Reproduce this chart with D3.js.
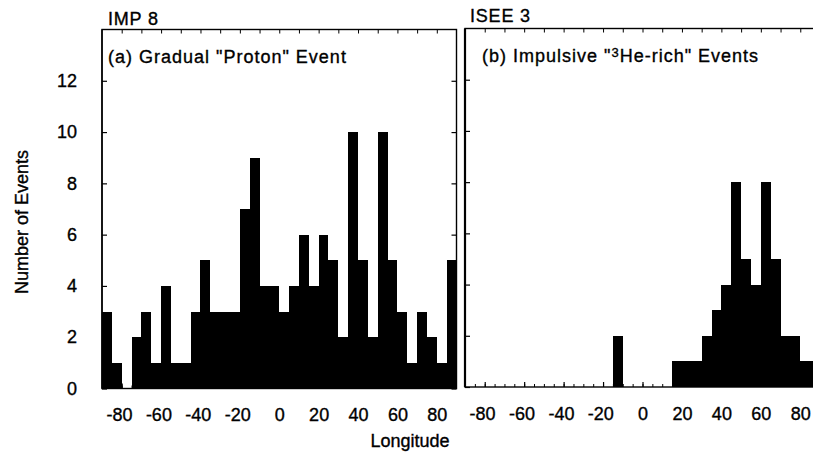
<!DOCTYPE html>
<html><head><meta charset="utf-8">
<script src="https://cdn.jsdelivr.net/npm/d3@7/dist/d3.min.js"></script>
<style>
body{margin:0;background:#fff}
svg{display:block}
text{font-family:"Liberation Sans",Arial,Helvetica,sans-serif;fill:#000;stroke:#000;stroke-width:0.35px}
</style>
</head><body>
<svg id="chart" width="813" height="452"></svg>
<script>
// ---- data ----
const binStarts = d3.range(-90, 90, 5);           // longitude bins, 5° wide
const impCounts  = [3,1,0,2,3,1,4,1,1,3,5,3,3,3,7,9,4,4,3,4,6,4,6,5,2,10,5,2,10,5,3,1,3,2,1,5];
const iseeCounts = [0,0,0,0,0,0,0,0,0,0,0,0,0,0,0,2,0,0,0,0,0,1,1,1,2,3,4,8,5,4,8,5,2,2,1,1];
const xTickValues = [-80,-60,-40,-20,0,20,40,60,80];
const yTickValues = [0,2,4,6,8,10,12];
const panelNames  = ["IMP 8", "ISEE 3"];

const svg = d3.select("#chart");
const FS = 18;
const fmt = d => String(d);   // plain hyphen minus, as in the original

const panels = [
  {name: panelNames[0], counts: impCounts,  left: 102, right: 456.5, top: 29.5, bottom: 388.5, borderW: 1.4,
   nameX: 108, nameY: 25, titleX: 108, titleY: 63, showY: true},
  {name: panelNames[1], counts: iseeCounts, left: 465, right: 820,  top: 28.5, bottom: 387,  borderW: 2.2,
   nameX: 470, nameY: 22, titleX: 482, titleY: 62, showY: false}
];

panels.forEach((p, i) => {
  const x = d3.scaleLinear().domain([-90, 90]).range([p.left, p.right]);
  const y = d3.scaleLinear().domain([0, 14]).range([p.bottom, p.top]);
  const g = svg.append("g");

  // bars
  g.append("g").selectAll("rect").data(binStarts).join("rect")
    .attr("x", d => x(d))
    .attr("width", d => x(d + 5) - x(d))
    .attr("y", (d, k) => y(p.counts[k]))
    .attr("height", (d, k) => y(0) - y(p.counts[k]))
    .attr("fill", "#000")
    .attr("shape-rendering", "crispEdges");

  // bottom axis (major, inward ticks, labels)
  const xb = g.append("g").attr("transform", `translate(0,${p.bottom})`)
    .call(d3.axisBottom(x).tickValues(xTickValues).tickSize(-5).tickPadding(20).tickFormat(fmt));
  xb.select(".domain").remove();
  xb.selectAll("line").attr("stroke", "#000").attr("stroke-width", 1.2);
  xb.selectAll("text").attr("font-size", FS).attr("font-family", null)
    .attr("dx", d => d < 0 ? "-0.15em" : 0);
  // bottom minor ticks
  const xbm = g.append("g").attr("transform", `translate(0,${p.bottom})`)
    .call(d3.axisBottom(x).tickValues(binStarts).tickSize(-3).tickFormat(""));
  xbm.select(".domain").remove();
  xbm.selectAll("line").attr("stroke", "#000").attr("stroke-width", 1);

  // top ticks
  const xt = g.append("g").attr("transform", `translate(0,${p.top})`)
    .call(d3.axisTop(x).tickValues(d3.range(-80, 90, 10)).tickSize(-4).tickFormat(""));
  xt.select(".domain").remove();
  xt.selectAll("line").attr("stroke", "#000").attr("stroke-width", 1);

  // left axis
  const yl = g.append("g").attr("transform", `translate(${p.left},0)`)
    .call(d3.axisLeft(y).tickValues(yTickValues).tickSize(-5).tickPadding(25)
      .tickFormat(p.showY ? fmt : ""));
  yl.select(".domain").remove();
  yl.selectAll("line").attr("stroke", "#000").attr("stroke-width", 1.2);
  yl.selectAll("text").attr("font-size", FS).attr("font-family", null);
  // right axis ticks
  const yr = g.append("g").attr("transform", `translate(${p.right},0)`)
    .call(d3.axisRight(y).tickValues(yTickValues).tickSize(-5).tickFormat(""));
  yr.select(".domain").remove();
  yr.selectAll("line").attr("stroke", "#000").attr("stroke-width", 1.2);

  // frame
  g.append("rect")
    .attr("x", p.left).attr("y", p.top)
    .attr("width", p.right - p.left).attr("height", p.bottom - p.top)
    .attr("fill", "none").attr("stroke", "#000").attr("stroke-width", 1.4);
  g.append("line")
    .attr("x1", p.left).attr("x2", p.left).attr("y1", p.top).attr("y2", p.bottom)
    .attr("stroke", "#000").attr("stroke-width", p.borderW);

  // spacecraft name
  g.append("text").attr("x", p.nameX).attr("y", p.nameY)
    .attr("font-size", FS).attr("letter-spacing", 0.8).text(p.name);
});

// panel titles
svg.append("text").attr("x", panels[0].titleX).attr("y", panels[0].titleY)
  .attr("font-size", FS).attr("letter-spacing", 1)
  .text('(a) Gradual "Proton" Event');

const tb = svg.append("text").attr("x", panels[1].titleX).attr("y", panels[1].titleY)
  .attr("font-size", FS).attr("letter-spacing", 1);
tb.append("tspan").text('(b) Impulsive "');
tb.append("tspan").attr("font-size", 13).attr("dy", -5).text("3");
tb.append("tspan").attr("dy", 5).text('He-rich" Events');

// axis titles
svg.append("text")
  .attr("transform", "translate(28,222) rotate(-90)")
  .attr("text-anchor", "middle").attr("font-size", FS)
  .text("Number of Events");

svg.append("text")
  .attr("x", 410).attr("y", 447)
  .attr("text-anchor", "middle").attr("font-size", FS)
  .text("Longitude");
</script>
</body></html>
